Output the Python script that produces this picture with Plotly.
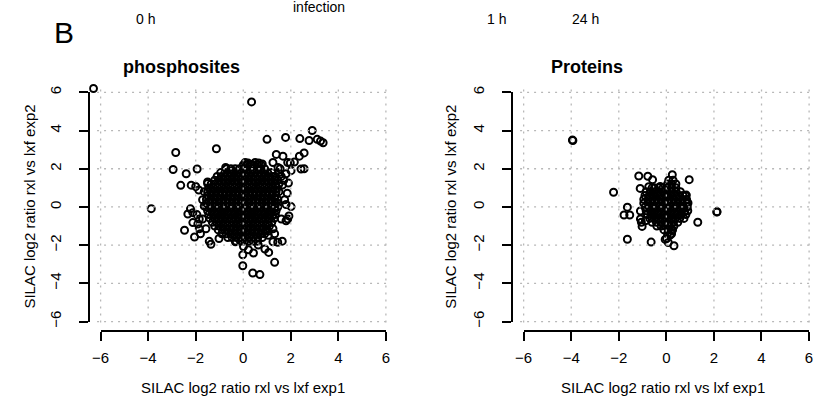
import plotly.graph_objects as go

# ---------------- data ----------------
# phosphosites: isolated points around the dense cloud
phos_out_x = [-6.3, 0.35, 2.9, 1.78, 1.0, 2.38, 3.11, 3.25, 3.36, 2.77, -1.13, -2.84, -2.95, -1.94, -2.4,
              -2.63, -2.19, -2.0, -1.87, -3.87, -2.47, -2.05, -2.22, -2.12, -2.33, -1.95, -1.85, -1.8, -2.12,
              -1.91, -1.85, -1.43, -1.36, -1.02, -0.33, 0.01, 0.22, 0.43, -0.02, -0.02, 0.4, 0.7, 1.32, 0.91,
              1.07, 1.25, 1.64, 1.45, 1.25, 1.32, 1.05, 1.6, 1.87, 2.01, 1.92, 1.8, 1.74, 1.85, 1.9, 1.8, 2.01,
              2.43, 2.56, 2.15, 2.36, 2.56, 1.67, 1.39, 1.87, 1.98, 0.08, 0.5, 0.36, 0.2, 0.65, 0.8, 1.25, 1.46,
              -0.74, -0.47, -1.5, -1.64, -1.71, -1.64, -1.57, -1.71, 1.05, 0.63, 1.8, -1.5,
              1.5, 1.6, 1.7, 1.55, 1.65]
phos_out_y = [6.2, 5.5, 4.0, 3.64, 3.54, 3.58, 3.54, 3.45, 3.36, 3.48, 3.05, 2.85, 1.96, 1.99, 1.74,
              1.13, 1.14, 1.07, 0.89, -0.09, -1.22, -1.57, -0.1, -0.3, -0.37, -0.4, -0.63, -1.4, -0.82,
              -0.89, -1.14, -1.8, -1.95, -1.65, -1.82, -2.07, -2.24, -2.41, -2.5, -3.08, -3.46, -3.54, -2.9, -2.2,
              -2.38, -1.82, -1.79, -1.85, -1.14, -1.4, -1.26, -0.63, -0.63, 0.02, -0.47, -0.72, 0.38, 0.72, 1.25, 1.74, 1.9,
              1.99, 2.0, 2.35, 2.66, 2.83, 2.66, 2.75, 2.33, 2.3, 2.33, 2.33, 2.22, 2.3, 2.3, 2.25, 2.33, 2.07,
              2.07, 1.9, 1.23, 0.8, 0.38, 0.04, -1.14, -0.63, -1.48, -1.99, 0.13, 1.31,
              1.8, 1.6, 1.4, 2.0, 1.15]

# phosphosites: the dense cloud, read row by row (y level -> x positions)
phos_core_y = [2.2, 2.0, 1.8, 1.6, 1.4, 1.2, 1.0, 0.8, 0.6, 0.4, 0.2, 0.0,
               -0.2, -0.4, -0.6, -0.8, -1.0, -1.2, -1.4, -1.6, -1.8]
phos_core_x = [
    [0.0, 0.15, 0.3, 0.45, 0.6, 0.75],
    [-0.7, -0.52, -0.34, -0.16, 0.02, 0.2, 0.38, 0.56, 0.74, 0.9],
    [-0.95, -0.77, -0.59, -0.41, -0.23, -0.05, 0.13, 0.31, 0.49, 0.67, 0.85, 1.03, 1.2],
    [-1.1, -0.92, -0.74, -0.56, -0.38, -0.2, -0.02, 0.16, 0.34, 0.52, 0.7, 0.88, 1.06, 1.24, 1.35],
    [-1.2, -1.02, -0.84, -0.66, -0.48, -0.3, -0.12, 0.06, 0.24, 0.42, 0.6, 0.78, 0.96, 1.14, 1.32, 1.45],
    [-1.35, -1.17, -0.99, -0.81, -0.63, -0.45, -0.27, -0.09, 0.09, 0.27, 0.45, 0.63, 0.81, 0.99, 1.17, 1.35, 1.5],
    [-1.45, -1.27, -1.09, -0.91, -0.73, -0.55, -0.37, -0.19, -0.01, 0.17, 0.35, 0.53, 0.71, 0.89, 1.07, 1.25, 1.43],
    [-1.5, -1.32, -1.14, -0.96, -0.78, -0.6, -0.42, -0.24, -0.06, 0.12, 0.3, 0.48, 0.66, 0.84, 1.02, 1.2, 1.38, 1.5],
    [-1.5, -1.33, -1.15, -0.97, -0.79, -0.61, -0.43, -0.25, -0.07, 0.11, 0.29, 0.47, 0.65, 0.83, 1.01, 1.19, 1.37],
    [-1.55, -1.37, -1.19, -1.01, -0.83, -0.65, -0.47, -0.29, -0.11, 0.07, 0.25, 0.43, 0.61, 0.79, 0.97, 1.15, 1.33, 1.45],
    [-1.55, -1.38, -1.2, -1.02, -0.84, -0.66, -0.48, -0.3, -0.12, 0.06, 0.24, 0.42, 0.6, 0.78, 0.96, 1.14, 1.32, 1.45],
    [-1.55, -1.37, -1.19, -1.01, -0.83, -0.65, -0.47, -0.29, -0.11, 0.07, 0.25, 0.43, 0.61, 0.79, 0.97, 1.15, 1.33, 1.45],
    [-1.5, -1.32, -1.14, -0.96, -0.78, -0.6, -0.42, -0.24, -0.06, 0.12, 0.3, 0.48, 0.66, 0.84, 1.02, 1.2, 1.38],
    [-1.45, -1.27, -1.09, -0.91, -0.73, -0.55, -0.37, -0.19, -0.01, 0.17, 0.35, 0.53, 0.71, 0.89, 1.07, 1.25, 1.35],
    [-1.4, -1.22, -1.04, -0.86, -0.68, -0.5, -0.32, -0.14, 0.04, 0.22, 0.4, 0.58, 0.76, 0.94, 1.12, 1.3],
    [-1.3, -1.12, -0.94, -0.76, -0.58, -0.4, -0.22, -0.04, 0.14, 0.32, 0.5, 0.68, 0.86, 1.04, 1.2],
    [-1.2, -1.02, -0.84, -0.66, -0.48, -0.3, -0.12, 0.06, 0.24, 0.42, 0.6, 0.78, 0.96, 1.1],
    [-1.05, -0.87, -0.69, -0.51, -0.33, -0.15, 0.03, 0.21, 0.39, 0.57, 0.75, 0.93, 1.0],
    [-0.9, -0.72, -0.54, -0.36, -0.18, 0.0, 0.18, 0.36, 0.54, 0.72, 0.9],
    [-0.65, -0.47, -0.29, -0.11, 0.07, 0.25, 0.43, 0.61, 0.8],
    [-0.3, -0.12, 0.06, 0.24, 0.42, 0.6],
]

# proteins: isolated points
prot_out_x = [-3.95, -3.93, -2.22, -1.64, -1.78, -1.54, -1.64, -0.64, 0.32, -0.05, 0.08, 1.32, 2.12, 2.13,
              0.96, -1.16, -0.78, -0.58, 0.25, -1.1, -0.74, -0.6, -0.26, 0.84, 0.91, 0.8, -1.09, -1.09,
              -1.02, -0.88, 0.22, 0.15, 0.01, -1.05]
prot_out_y = [3.5, 3.48, 0.77, -0.01, -0.42, -0.42, -1.69, -1.84, -2.03, -1.7, -1.86, -0.8, -0.27, -0.25,
              1.43, 1.62, 1.61, 1.43, 1.69, 0.97, 1.06, 1.0, 1.07, 0.62, 0.21, 0.6, -0.21, -0.63,
              -1.02, -0.72, -1.23, -1.48, -1.65, -0.8]

# proteins: the dense cloud, row by row
prot_core_y = [1.4, 1.2, 1.0, 0.8, 0.6, 0.4, 0.2, 0.0, -0.2, -0.4, -0.6, -0.8, -1.0, -1.2, -1.4]
prot_core_x = [
    [0.1, 0.28],
    [0.05, 0.22, 0.4],
    [-0.5, -0.32, -0.14, 0.04, 0.22, 0.4],
    [-0.85, -0.67, -0.49, -0.31, -0.13, 0.05, 0.23, 0.41, 0.59],
    [-0.9, -0.72, -0.54, -0.36, -0.18, 0.0, 0.18, 0.36, 0.54, 0.7],
    [-0.95, -0.77, -0.59, -0.41, -0.23, -0.05, 0.13, 0.31, 0.49, 0.67, 0.85],
    [-0.95, -0.77, -0.59, -0.41, -0.23, -0.05, 0.13, 0.31, 0.49, 0.67, 0.85],
    [-0.9, -0.72, -0.54, -0.36, -0.18, 0.0, 0.18, 0.36, 0.54, 0.72, 0.88],
    [-0.85, -0.67, -0.49, -0.31, -0.13, 0.05, 0.23, 0.41, 0.59, 0.77, 0.9],
    [-0.8, -0.62, -0.44, -0.26, -0.08, 0.1, 0.28, 0.46, 0.64, 0.82],
    [-0.7, -0.52, -0.34, -0.16, 0.02, 0.2, 0.38, 0.56, 0.74],
    [-0.6, -0.42, -0.24, -0.06, 0.12, 0.3, 0.48],
    [-0.4, -0.22, -0.04, 0.14, 0.32],
    [-0.1, 0.08, 0.26],
    [0.05, 0.22],
]

tick_vals = [-6, -4, -2, 0, 2, 4, 6]
panel_titles = ["phosphosites", "Proteins"]
x_title = "SILAC log2 ratio rxl vs lxf exp1"
y_title = "SILAC log2 ratio rxl vs lxf exp2"
header_labels = ["0 h", "infection", "1 h", "24 h"]
panel_letter = "B"

# ---------------- assemble ----------------
def flatten(ys, xs_rows):
    fx, fy = [], []
    for yv, row in zip(ys, xs_rows):
        for xv in row:
            fx.append(xv)
            fy.append(yv)
    return fx, fy

pcx, pcy = flatten(phos_core_y, phos_core_x)
rcx, rcy = flatten(prot_core_y, prot_core_x)

W, H = 815, 411
FONT = "Liberation Sans, Arial, Helvetica, sans-serif"


def pxx(v):
    return v / W


def pxy(v):
    return 1 - v / H


marker = dict(symbol="circle-open", size=7, color="black", line=dict(width=2, color="black"))

fig = go.Figure()
fig.add_trace(go.Scatter(x=phos_out_x + pcx, y=phos_out_y + pcy, mode="markers", marker=marker,
                         xaxis="x", yaxis="y", hoverinfo="skip"))
fig.add_trace(go.Scatter(x=prot_out_x + rcx, y=prot_out_y + rcy, mode="markers", marker=marker,
                         xaxis="x2", yaxis="y2", hoverinfo="skip"))
# empty traces so the drawn (R-style) axes exist
fig.add_trace(go.Scatter(x=[], y=[], xaxis="x3", yaxis="y3", hoverinfo="skip"))
fig.add_trace(go.Scatter(x=[], y=[], xaxis="x4", yaxis="y4", hoverinfo="skip"))

ydom = [pxy(334.5), pxy(79.5)]
hidden = dict(visible=False, showgrid=False, zeroline=False, fixedrange=True)
fig.update_layout(
    width=W, height=H, margin=dict(l=0, r=0, t=0, b=0),
    paper_bgcolor="white", plot_bgcolor="rgba(0,0,0,0)", showlegend=False,
    font=dict(family=FONT, color="black", size=15),
    xaxis=dict(domain=[pxx(81.5), pxx(394.6)], range=[-6.48, 6.48], anchor="y", **hidden),
    yaxis=dict(domain=ydom, range=[-6.48, 6.48], anchor="x", **hidden),
    xaxis2=dict(domain=[pxx(511.5), 1.0], range=[-6.475, 6.08], anchor="y2", **hidden),
    yaxis2=dict(domain=ydom, range=[-6.48, 6.48], anchor="x2", **hidden),
)

axis_common = dict(range=[-6, 6], tickvals=tick_vals, showline=True, linecolor="black", linewidth=2,
                   ticks="outside", ticklen=9, tickwidth=2, tickcolor="black", showgrid=False,
                   zeroline=False, anchor="free", tickfont=dict(size=15, family=FONT, color="black"),
                   fixedrange=True)
fig.update_layout(
    xaxis3=dict(domain=[pxx(93), pxx(383)], position=pxy(335), ticklabelstandoff=4, **axis_common),
    xaxis4=dict(domain=[pxx(523), pxx(813)], position=pxy(335), ticklabelstandoff=4, **axis_common),
    yaxis3=dict(domain=[pxy(325), pxy(89)], position=pxx(81.5), side="left", tickangle=-90,
                ticklabelstandoff=12, **axis_common),
    yaxis4=dict(domain=[pxy(325), pxy(89)], position=pxx(511.5), side="left", tickangle=-90,
                ticklabelstandoff=12, **axis_common),
)

# dotted grid drawn over the points (as in the original)
grid_line = dict(color="#b8b8b8", width=1.3, dash="2px,5px")
for xr, yr, xmax in (("x", "y", 6.2), ("x2", "y2", 6.08)):
    for t in tick_vals:
        fig.add_shape(type="line", xref=xr, yref=yr, x0=t, x1=t, y0=-6.05, y1=6.2,
                      line=grid_line, layer="above")
        fig.add_shape(type="line", xref=xr, yref=yr, x0=-6.15, x1=xmax, y0=t, y1=t,
                      line=grid_line, layer="above")

ann = []
ann.append(dict(text="<b>%s</b>" % panel_titles[0], x=pxx(175), y=pxy(63), font=dict(size=18)))
ann.append(dict(text="<b>%s</b>" % panel_titles[1], x=pxx(587), y=pxy(63), font=dict(size=18)))
ann.append(dict(text=x_title, x=pxx(238), y=pxy(393), font=dict(size=15)))
ann.append(dict(text=x_title, x=pxx(665), y=pxy(393), font=dict(size=15)))
ann.append(dict(text=y_title, x=pxx(21), y=pxy(207), textangle=-90, font=dict(size=15)))
ann.append(dict(text=y_title, x=pxx(449), y=pxy(207), textangle=-90, font=dict(size=15)))
ann.append(dict(text=panel_letter, x=pxx(56), y=pxy(27), font=dict(size=30)))
for lab, cx, cy in zip(header_labels, [139, 315, 495, 586], [13, 1, 13, 13]):
    ann.append(dict(text=lab, x=pxx(cx), y=pxy(cy), font=dict(size=14)))
for a in ann:
    a.update(xref="paper", yref="paper", showarrow=False, xanchor="center", yanchor="middle")
fig.update_layout(annotations=ann)

fig.write_html("out.html")
